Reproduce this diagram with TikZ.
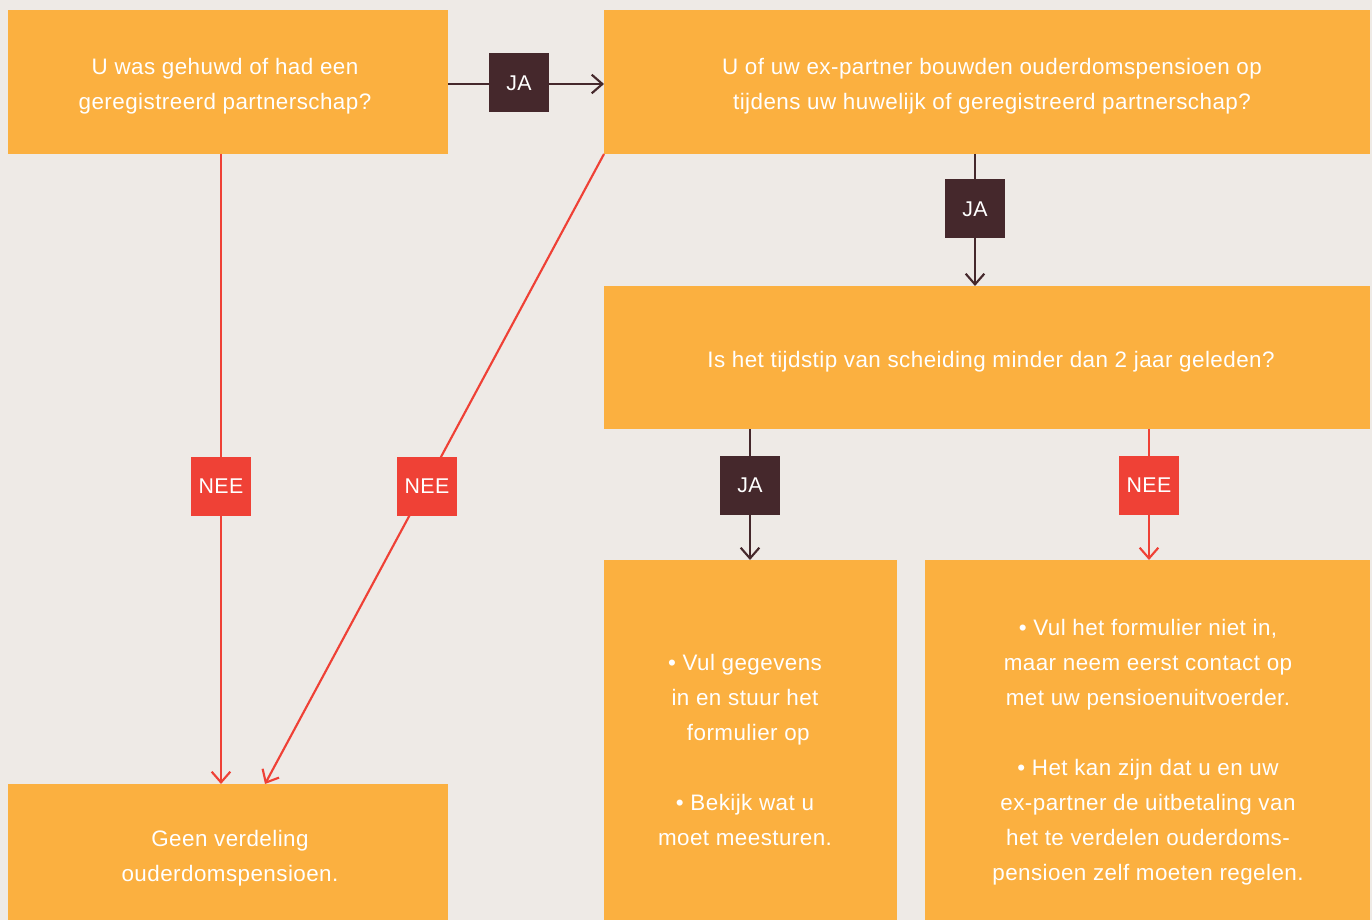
\documentclass[tikz,border=0pt]{standalone}
\usepackage{fontspec}
\setmainfont{Liberation Sans}[LetterSpace=2]
\usetikzlibrary{arrows.meta}
\definecolor{bg}{HTML}{EEEAE6}
\definecolor{org}{HTML}{FBB040}
\definecolor{dk}{HTML}{45282C}
\definecolor{rd}{HTML}{EF4136}
\begin{document}
\begin{tikzpicture}[x=0.75pt,y=-0.75pt,
  box/.style={fill=org,draw=none,text=white,align=center,font=\fontsize{16.8}{26.3}\selectfont,inner sep=0pt},
  lab/.style={minimum width=45pt,minimum height=44.25pt,inner sep=0pt,text=white,font=\fontsize{16}{18}\selectfont},
  ja/.style={lab,fill=dk},
  nee/.style={lab,fill=rd},
  dline/.style={draw=dk,line width=1.6pt},
  rline/.style={draw=rd,line width=1.6pt},
  tip/.style={-{Straight Barb[length=8pt,width=14pt,line width=1.6pt]}}]
\fill[bg] (0,0) rectangle (1372,920);
\useasboundingbox (0,0) rectangle (1372,920);
% boxes
\fill[org] (8,10) rectangle (448,154);
\node[box] (A) at (225,86) {U was gehuwd of had een\\geregistreerd partnerschap?};
\coordinate (Ar) at (448,84);
\coordinate (Ab) at (221,154);
\fill[org] (604,10) rectangle (1370,154);
\node[box] (B) at (992,86) {U of uw ex-partner bouwden ouderdomspensioen op\\tijdens uw huwelijk of geregistreerd partnerschap?};
\coordinate (Bl) at (604,84);
\coordinate (Bb) at (975,154);
\coordinate (Bc) at (604,154);
\fill[org] (604,286) rectangle (1370,429);
\node[box] (C) at (991,362) {Is het tijdstip van scheiding minder dan 2 jaar geleden?};
\coordinate (Ct) at (975,286);
\coordinate (Cb1) at (750,429);
\coordinate (Cb2) at (1149,429);
\fill[org] (604,560) rectangle (897,920);
\node[box] (D) at (745,750) {• Vul gegevens\\in en stuur het\\\ formulier op\\[26.3pt]• Bekijk wat u\\moet meesturen.};
\coordinate (Dt) at (750,560);
\fill[org] (925,560) rectangle (1370,920);
\node[box] (E) at (1148,752) {• Vul het formulier niet in,\\maar neem eerst contact op\\met uw pensioenuitvoerder.\\[26.3pt]• Het kan zijn dat u en uw\\ex-partner de uitbetaling van\\het te verdelen ouderdoms-\\pensioen zelf moeten regelen.};
\coordinate (Et) at (1149,560);
\fill[org] (8,784) rectangle (448,920);
\node[box] (F) at (230,858) {Geen verdeling\\ouderdomspensioen.};
\coordinate (Ft1) at (221,784);
\coordinate (Ft2) at (265,784);
% connectors
\draw[dline,tip] (Ar) -- (Bl);
\draw[dline,tip] (Bb) -- (Ct);
\draw[dline,tip] (Cb1) -- (Dt);
\draw[rline,tip] (Cb2) -- (Et);
\draw[rline,tip] (Ab) -- (Ft1);
\draw[rline,tip] (Bc) -- (Ft2);
% labels
\node[ja] (j1) at (519,83) {JA};
\node[ja] (j2) at (975,209) {JA};
\node[ja] (j3) at (750,485) {JA};
\node[nee] (n1) at (1149,485) {NEE};
\node[nee] (n2) at (221,486) {NEE};
\node[nee] (n3) at (427,486) {NEE};
\end{tikzpicture}
\end{document}
